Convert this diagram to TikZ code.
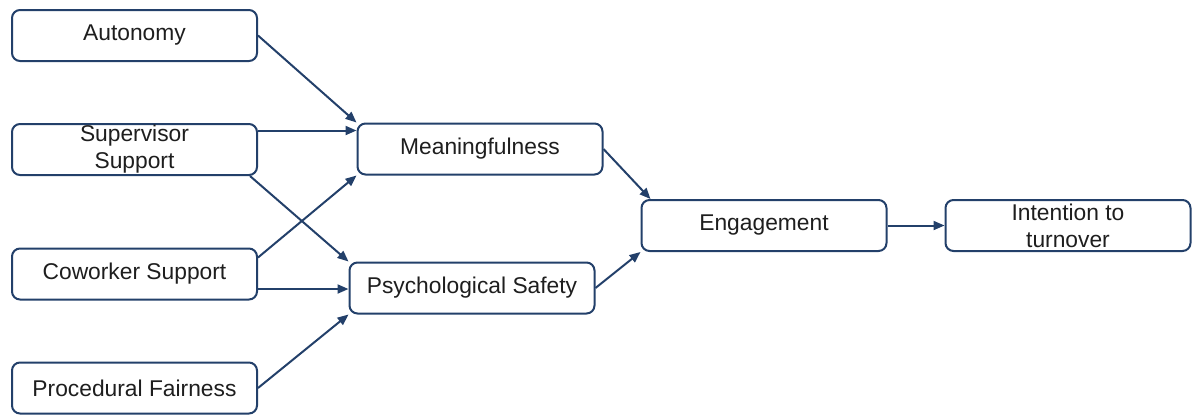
\documentclass[tikz,border=0pt]{standalone}
\usepackage{fontspec}
\setmainfont{Liberation Sans}
\usepackage{xcolor}
\usepackage{tikz}
\usetikzlibrary{calc,arrows.meta}
\definecolor{edge}{HTML}{23406A}
\definecolor{ink}{HTML}{1E1E1E}
\tikzset{
  box/.style={draw=edge, line width=1pt, rounded corners=4pt, fill=white,
    minimum width=122.5pt, minimum height=25.5pt, inner sep=0pt,
    align=center, text=ink, font=\fontsize{11.4}{13.5}\selectfont},
  arr/.style={draw=edge, line width=1pt, -{Triangle[length=5.5pt,width=4.5pt]}},
}

\begin{document}
\begin{tikzpicture}[x=0.5pt,y=-0.5pt]
  \useasboundingbox (0,0) rectangle (1198,414);

  % antecedents
  \node[box] (auto) at (134.5,35.5) {Autonomy};
  \node[box] (sup)  at (134.5,149.5) {Supervisor\\Support};
  \node[box] (cow)  at (134.5,274) {Coworker Support};
  \node[box] (proc) at (134.5,388) {Procedural Fairness};

  % mediators
  \node[box] (mean) at (480,149) {Meaningfulness};
  \node[box] (psy)  at (472,288) {Psychological Safety};

  % outcomes
  \node[box] (eng)  at (764,225.5) {Engagement};
  \node[box] (turn) at (1068,225.5) {Intention to\\turnover};

  % paths into meaningfulness
  \draw[arr] (auto.east) -- (mean.north west);
  \draw[arr] ([yshift=9.5pt]sup.east) -- ([yshift=9.5pt]sup.east -| mean.west);
  \draw[arr] ([yshift=-5pt]cow.north east) -- (mean.south west);

  % paths into psychological safety
  \draw[arr] ([xshift=-4pt]sup.south east) -- (psy.north west);
  \draw[arr] ([yshift=-7.5pt]cow.east) -- ([yshift=-7.5pt]cow.east -| psy.west);
  \draw[arr] (proc.east) -- (psy.south west);

  % mediators to engagement, then turnover
  \draw[arr] (mean.east) -- ([xshift=5pt]eng.north west);
  \draw[arr] (psy.east) -- (eng.south west);
  \draw[arr] (eng.east) -- (turn.west);
\end{tikzpicture}
\end{document}
